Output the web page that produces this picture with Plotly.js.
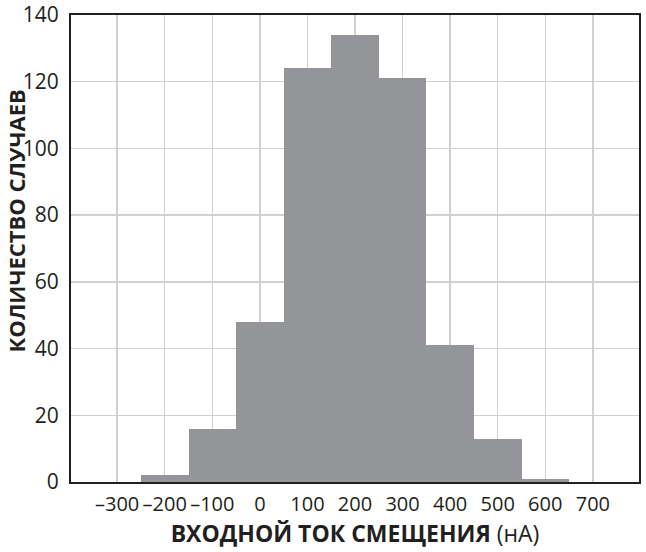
<!DOCTYPE html>
<html>
<head>
<meta charset="utf-8">
<script src="https://cdn.plot.ly/plotly-3.0.1.min.js"></script>
<style>html,body{margin:0;padding:0;background:#fff;}#chart{width:646px;height:552px;}</style>
</head>
<body>
<div id="chart"></div>
<script>
const binCenters = [-200, -100, 0, 100, 200, 300, 400, 500, 600];
const counts = [2, 16, 48, 124, 134, 121, 41, 13, 1];
const xTickVals = [-300, -200, -100, 0, 100, 200, 300, 400, 500, 600, 700];
const xTickText = ['–300', '–200', '–100', '0', '100', '200', '300', '400', '500', '600', '700'];
const yTickVals = [0, 20, 40, 60, 80, 100, 120, 140];
const xTitle = '<b>ВХОДНОЙ ТОК СМЕЩЕНИЯ</b> (нА)';
const yTitle = '<b>КОЛИЧЕСТВО СЛУЧАЕВ</b>';

const textColor = '#231f20';
const trace = {
  type: 'bar',
  x: binCenters,
  y: counts,
  width: 100,
  marker: {color: '#939598', line: {width: 0}},
  hoverinfo: 'x+y'
};

const layout = {
  width: 646, height: 552,
  margin: {l: 71, r: 7, t: 15, b: 70},
  paper_bgcolor: '#fff', plot_bgcolor: '#fff',
  font: {family: '"Open Sans", "Noto Sans", sans-serif', color: textColor, size: 21},
  showlegend: false,
  bargap: 0,
  xaxis: {
    range: [-397, 797],
    tickmode: 'array', tickvals: xTickVals, ticktext: xTickText,
    ticks: '', ticklabelstandoff: 3, tickangle: 0,
    showgrid: true, gridcolor: '#d0d0d0', gridwidth: 1.5,
    zeroline: false,
    showline: true, linecolor: textColor, linewidth: 2, mirror: true,
    tickfont: {size: 20, color: textColor},
    title: {text: xTitle, font: {size: 23, color: textColor}, standoff: 3}
  },
  yaxis: {
    range: [0, 140],
    tickmode: 'array', tickvals: yTickVals,
    ticks: '', ticklabelstandoff: 6, ticklabeloverflow: 'allow',
    showgrid: true, gridcolor: '#d0d0d0', gridwidth: 1.5,
    zeroline: false,
    showline: true, linecolor: textColor, linewidth: 2, mirror: true,
    tickfont: {size: 21, color: textColor}
  },
  annotations: [{
    text: yTitle, textangle: -90,
    xref: 'paper', yref: 'paper', x: 0, y: 0.558,
    xanchor: 'center', yanchor: 'middle', xshift: -55,
    showarrow: false, font: {size: 22, color: textColor}
  }]
};

Plotly.newPlot('chart', [trace], layout, {displayModeBar: false, staticPlot: true});
</script>
</body>
</html>
